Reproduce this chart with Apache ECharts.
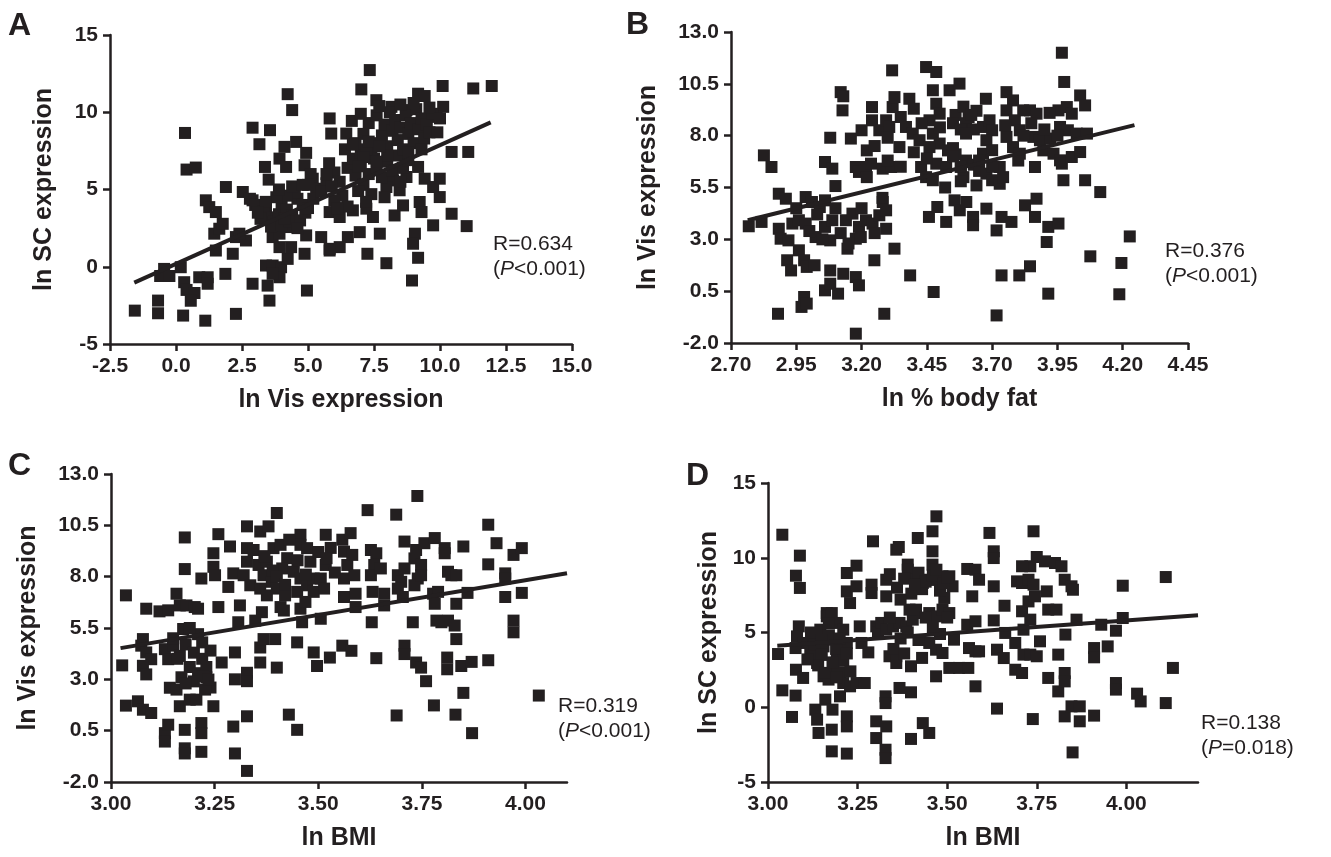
<!DOCTYPE html>
<html>
<head>
<meta charset="utf-8">
<script src="https://cdn.jsdelivr.net/npm/echarts@6/dist/echarts.min.js"></script>
<style>
html,body{margin:0;padding:0;background:#fff;}
#chart{width:1331px;height:857px;}
</style>
</head>
<body>
<div id="chart"></div>
<script>
// ---------- DATA ----------
const aXTicks = [-2.5, 0, 2.5, 5, 7.5, 10, 12.5, 15];
const aYTicks = [-5, 0, 5, 10, 15];
const bXTicks = [2.70, 2.95, 3.20, 3.45, 3.70, 3.95, 4.20, 4.45];
const bYTicks = [-2.0, 0.5, 3.0, 5.5, 8.0, 10.5, 13.0];
const cXTicks = [3.00, 3.25, 3.50, 3.75, 4.00];
const cYTicks = [-2.0, 0.5, 3.0, 5.5, 8.0, 10.5, 13.0];
const dXTicks = [3.00, 3.25, 3.50, 3.75, 4.00];
const dYTicks = [-5, 0, 5, 10, 15];

const panelLetters = ['A', 'B', 'C', 'D'];
const xTitles = ['ln Vis expression', 'ln % body fat', 'ln BMI', 'ln BMI'];
const yTitles = ['ln SC expression', 'ln Vis expression', 'ln Vis expression', 'ln SC expression'];
const rLabels = ['R=0.634', 'R=0.376', 'R=0.319', 'R=0.138'];
const pLabels = ['<0.001', '<0.001', '<0.001', '=0.018'];

const aFit = [[-1.58, -1.03], [11.92, 9.34]];
const bFit = [[2.764, 3.92], [4.245, 8.51]];
const cFit = [[3.023, 4.52], [4.10, 8.17]];
const dFit = [[3.026, 4.12], [4.20, 6.15]];

const aPts = [
[-1.56,-2.84],[-0.68,-2.19],[-0.68,-3.01],[0.27,-3.16],[1.11,-3.49],[2.27,-3.05],
[0.34,8.66],[0.40,6.29],[0.75,6.42],
[-0.45,-0.14],[-0.6,-0.6],[-0.25,-0.6],[0.18,-0.03],[0.31,-1.0],[0.4,-1.5],[0.7,-1.7],[0.56,-2.2],[0.88,-0.68],[1.2,-0.68],[1.2,-1.1],[1.87,-0.46],
[1.45,2.14],[1.64,2.46],[1.77,2.78],[1.51,1.05],[2.15,0.84],[2.27,1.92],[2.65,1.7],[2.4,2.14],
[1.13,4.3],[1.26,3.86],[1.51,3.54],[1.89,5.16],[2.53,4.84],[2.9,4.3],[3.16,3.86],[3.41,3.86],
[2.9,9.0],[3.16,7.93],[3.56,8.84],[3.37,6.46],[3.51,5.64],[4.23,11.17],[4.4,10.14],
[3.92,7.0],[4.17,6.46],[4.11,7.76],[4.55,8.08],[4.93,7.37],[4.87,6.57],[5.18,5.7],[5.31,5.05],
[4.93,2.03],[4.87,0.84],[4.96,-1.54],[5.5,1.92],[5.82,1.05],
[5.82,9.6],[5.88,8.62],[6.45,8.62],[6.66,9.44],[7.02,11.48],[7.34,12.73],[7.59,10.78],[8.16,10.35],[8.73,10.14],[9.17,11.2],[9.42,11.05],[10.1,11.7],[10.12,10.35],[9.87,9.7],[11.26,11.54],[11.96,11.7],
[10.44,7.43],[11.07,7.43],[9.17,6.46],[9.42,5.7],[9.99,5.7],[9.99,4.51],[9.74,5.16],[10.44,3.43],[11.01,2.63],[9.74,2.68],[9.23,4.19],[9.3,3.54],[9.05,2.14],[8.98,1.49],[9.17,0.58],[8.94,-0.89],
[7.97,0.23],[7.72,2.14],[7.25,0.84],[6.96,2.24],[6.51,1.92],[6.2,1.27],[5.82,1.16],
[5.82,3.54],[6.2,3.22],[6.7,3.65],[7.21,3.76],[7.46,3.22],[8.28,3.32],[8.6,3.97],
[8.22,5.59],[8.73,5.81],[7.97,5.16],[8.47,4.95],
[3.41,0.08],[3.66,0.08],[3.98,-0.03],[4.23,0.51],[4.36,1.27],[3.92,1.27],[3.66,1.92],[3.92,2.14],[4.17,2.57],
[2.9,-1.1],[3.47,-1.22],[3.54,-2.19],[3.92,-0.68],[3.66,-0.46],
[2.8,4.4],[3.0,4.0],[3.3,3.6],[3.5,3.2],[3.7,2.9],[3.9,3.4],[4.0,4.1],[4.2,3.7],[4.4,3.3],[4.6,4.4],[4.8,4.0],[4.5,4.8],[4.2,4.6],[3.8,4.5],[3.4,4.2],[3.2,3.1],[3.6,2.6],[4.0,2.7],[4.3,2.9],[4.7,3.0],[4.9,3.5],[3.9,5.0],[4.4,5.2],[4.8,5.3],[5.2,4.4],[5.0,3.8],[3.1,3.5],[4.1,3.1],[4.6,2.5],
[6.0,6.1],[6.2,5.5],[6.5,6.4],[6.8,5.9],[7.0,6.6],[7.1,5.3],[7.3,6.0],[7.5,7.0],[7.6,6.4],[7.8,5.8],[8.0,6.8],[8.2,6.2],[8.4,7.2],[6.7,7.0],[6.9,4.9],[7.4,4.7],[6.3,4.6],[5.7,5.4],[5.5,4.9],[6.0,4.3],[5.8,6.7],[6.4,7.6],[7.0,7.4],[8.6,6.4],[8.8,6.9],[8.5,5.5],[7.9,4.5],[7.2,4.2],[6.5,3.9],[6.1,3.8],
[7.1,8.6],[7.3,9.3],[7.5,8.0],[7.6,9.8],[7.8,8.5],[7.9,9.2],[8.0,7.8],[8.1,10.0],[8.2,8.8],[8.3,9.5],[8.4,8.2],[8.5,9.0],[8.6,7.6],[8.7,9.8],[8.8,8.6],[8.9,9.3],[9.0,8.0],[9.1,10.2],[9.2,8.9],[9.3,9.6],[9.4,8.3],[9.5,9.2],[9.6,8.7],[9.7,9.9],[7.4,7.3],[8.0,7.2],[8.8,7.4],[9.3,7.6],[7.0,9.9],[7.7,10.4],[8.5,10.5],[9.0,10.6],[9.6,10.3],[10.0,9.6],[9.9,8.7],[6.8,8.0],[7.2,7.6],
[6.7,7.9],[7.1,7.1],[6.9,6.5],[7.3,8.1],[7.6,6.8],[7.7,7.8],[5.1,6.0],[5.0,5.3],[5.7,6.0],[5.9,5.2]
];

const bPts = [
[2.768,3.63],[2.817,3.84],[2.826,7.05],[2.855,6.49],[2.88,-0.59],[2.883,5.2],[2.91,4.96],[2.883,3.51],[2.89,3.03],[2.92,2.95],[2.935,3.76],[2.96,3.92],[2.986,3.76],[2.915,1.99],[2.93,1.5],[2.96,2.47],[2.98,1.99],[2.99,1.67],[3.02,1.75],[2.97,-0.26],[2.98,0.22],[2.99,-0.1],[2.986,5.04],[3.01,4.8],[3.04,4.56],[3.06,4.88],[3.024,3.11],[3.06,3.6],[3.088,3.92],[3.08,2.95],[3.06,0.54],[3.08,0.86],[3.11,0.38],[3.13,1.34],[3.08,1.5],[3.06,6.73],[3.088,6.41],[3.1,5.57],[3.08,7.9],[3.12,10.1],[3.13,9.9],[3.127,9.22],[3.159,7.86],[3.146,2.55],[3.178,3.03],[3.178,1.18],[3.19,0.78],[3.178,-1.55],[3.178,6.49],[3.19,6.25],[3.217,6.49],[3.236,6.65],[3.14,3.92],[3.165,4.24],[3.19,3.6],[3.217,3.92],[3.242,3.76],[3.268,4.16],[3.294,4.4],[3.281,4.8],[3.294,3.51],[3.197,3.11],[3.2,8.26],[3.22,7.29],[3.24,9.38],[3.24,8.74],[3.249,1.99],[3.326,2.55],[3.287,-0.59],[3.281,6.41],[3.313,6.49],[3.268,8.26],[3.294,8.74],[3.306,8.42],[3.319,9.38],[3.317,11.15],[3.326,9.86],[3.345,7.45],[3.37,8.42],[3.396,8.1],[3.422,7.78],[3.383,9.78],[3.386,1.26],[3.428,6.49],[3.447,11.31],[3.486,11.07],[3.473,10.19],[3.486,9.54],[3.499,9.06],[3.46,8.74],[3.473,8.1],[3.499,7.62],[3.46,7.45],[3.447,6.0],[3.473,5.85],[3.486,6.65],[3.524,6.49],[3.531,7.29],[3.458,4.08],[3.49,4.56],[3.524,3.84],[3.476,0.46],[3.537,10.19],[3.575,10.51],[3.556,4.88],[3.576,4.4],[3.601,4.8],[3.627,4.08],[3.627,3.68],
[3.56,9.0],[3.59,9.4],[3.61,8.9],[3.64,9.2],[3.6,8.6],[3.63,8.3],[3.55,8.6],[3.58,8.3],
[3.56,7.1],[3.58,6.5],[3.59,6.0],[3.6,6.8],[3.63,6.6],[3.65,6.3],[3.55,7.4],
[3.676,9.78],[3.665,8.42],[3.69,8.74],[3.7,8.26],[3.678,7.78],[3.665,7.13],[3.678,6.17],[3.7,5.85],[3.729,5.68],[3.742,6.0],[3.729,6.49],[3.678,4.48],[3.717,3.43],[3.736,4.08],[3.774,3.84],[3.717,-0.67],[3.736,1.26],[3.804,1.26],[3.845,1.7],[3.755,10.1],[3.78,9.7],[3.755,9.22],[3.787,8.74],[3.806,8.26],[3.819,9.22],[3.755,7.94],[3.78,7.45],[3.806,7.13],[3.826,4.64],[3.87,4.96],[3.864,4.08],[3.845,9.22],[3.87,9.06],[3.858,7.94],[3.883,7.78],[3.864,6.49],[3.896,7.29],[3.909,2.87],[3.915,0.38],[3.915,3.6],[3.954,3.76],[3.935,7.13],[3.96,6.81],[3.967,6.65],[3.922,7.86],[3.967,12.0],[3.976,10.59],[3.954,9.22],[3.986,9.38],[4.005,9.06],[4.037,9.94],[4.056,9.46],[3.96,8.42],[3.99,8.26],[4.024,8.1],[4.063,8.1],[3.973,5.85],[4.056,5.85],[4.005,6.97],[4.037,7.21],[4.114,5.28],[4.076,2.18],[4.227,3.14],[4.195,1.86],[4.187,0.35],
[3.03,4.2],[3.1,4.5],[3.12,3.3],[3.2,4.5],[3.25,3.3],[3.0,3.4],[2.95,4.5],[3.05,3.0],[3.15,2.8],[3.28,5.0],
[3.3,7.9],[3.35,8.9],[3.4,9.3],[3.43,8.6],[3.5,8.4],[3.55,7.0],[3.6,8.1],[3.62,9.0],[3.58,6.5],[3.65,6.8],[3.7,7.3],[3.75,8.5],[3.8,6.8],[3.82,8.0],[3.85,8.6],[3.9,8.3],[3.92,9.1],[3.95,8.0],[3.64,5.6],[3.7,6.5],[3.58,5.8],[3.52,5.5],[3.45,6.9],[3.4,7.2],[3.25,7.5],[3.22,6.0],[3.35,6.5],[3.3,6.8]
];

const cPts = [
[3.036,7.09],[3.027,3.68],[3.036,1.72],[3.065,1.93],[3.077,1.52],[3.097,1.36],[3.077,4.96],[3.073,4.64],[3.085,4.31],[3.097,3.98],[3.077,3.66],[3.085,3.24],[3.085,6.44],[3.117,6.31],[3.138,6.36],[3.13,4.47],[3.138,3.98],[3.15,4.64],[3.166,4.14],[3.158,7.17],[3.178,9.91],[3.178,8.37],[3.142,2.59],[3.158,2.5],[3.13,0.38],[3.138,0.79],[3.13,-0.03],[3.166,1.69],[3.178,0.54],[3.178,-0.36],[3.178,-0.61],[3.166,6.6],[3.182,6.6],[3.202,6.52],[3.21,6.44],[3.174,5.45],
[3.15,5.0],[3.18,4.7],[3.2,4.3],[3.22,4.0],[3.19,3.6],[3.21,3.3],[3.23,3.6],[3.17,3.1],[3.2,2.9],[3.24,4.4],[3.16,4.0],[3.21,5.2],[3.22,4.8],[3.19,5.5],[3.23,3.1],[3.18,2.8],[3.24,2.6],
[3.19,2.01],[3.206,2.01],[3.218,0.87],[3.218,0.38],[3.218,-0.53],[3.222,3.16],[3.227,2.5],[3.235,2.99],[3.247,1.69],[3.218,7.91],[3.247,9.14],[3.247,8.48],[3.251,8.07],[3.259,6.52],[3.259,10.07],[3.267,3.82],[3.287,9.47],[3.283,7.5],[3.295,8.16],[3.299,4.31],[3.299,3.0],[3.295,0.7],[3.299,-0.61],[3.311,6.6],[3.307,5.78],[3.328,10.45],[3.328,9.39],[3.328,8.73],[3.344,9.3],[3.32,8.07],[3.336,7.58],[3.328,3.32],[3.328,2.91],[3.328,1.2],[3.328,-1.46],[3.36,10.2],[3.38,10.45],[3.4,11.1],[3.356,8.57],[3.368,8.07],[3.376,8.73],[3.388,7.75],[3.36,7.42],[3.376,7.09],[3.364,6.27],[3.348,5.86],[3.36,4.55],[3.368,4.96],[3.36,3.82],[3.396,4.96],[3.4,3.57],[3.392,9.39],[3.409,9.55],[3.425,8.9],[3.413,8.4],[3.4,7.42],[3.42,7.09],[3.409,6.52],[3.417,6.35],[3.449,4.8],[3.429,1.28],[3.449,0.54],
[3.441,8.24],[3.457,10.04],[3.457,9.55],[3.473,9.39],[3.481,8.73],[3.457,7.91],[3.473,7.58],[3.449,7.26],[3.489,7.91],[3.489,7.26],
[3.457,6.44],[3.469,6.77],[3.461,5.78],[3.489,4.31],[3.497,3.65],[3.506,5.95],[3.518,10.04],[3.506,7.91],[3.514,7.42],[3.518,8.57],[3.528,4.06],[3.558,9.8],[3.578,10.12],[3.562,9.22],[3.57,8.57],[3.582,9.06],[3.562,7.91],[3.587,8.07],[3.562,7.01],[3.558,4.64],[3.58,4.39],[3.59,7.17],[3.59,6.52],[3.619,11.24],[3.627,9.3],[3.64,9.14],[3.635,8.57],[3.627,8.07],[3.651,8.4],[3.631,7.26],[3.629,5.78],[3.64,4.03],[3.659,7.17],[3.659,6.6],[3.688,11.02],[3.692,8.07],[3.7,7.75],[3.708,8.4],[3.692,7.42],[3.704,7.01],[3.708,9.71],[3.689,1.24],[3.708,4.64],[3.708,4.23],[3.728,5.78],[3.739,11.93],[3.732,8.89],[3.736,9.3],[3.748,8.57],[3.74,7.91],[3.732,7.58],[3.748,8.07],[3.756,9.63],[3.736,3.82],[3.748,3.57],[3.76,2.91],[3.779,1.73],[3.781,9.88],[3.777,7.17],[3.781,6.68],[3.789,7.26],[3.797,5.78],[3.785,5.86],[3.805,9.39],[3.805,9.14],[3.813,5.86],[3.829,5.62],[3.833,4.96],[3.833,6.68],[3.813,8.24],[3.821,8.07],[3.833,8.07],[3.811,4.06],[3.811,3.49],[3.85,9.47],[3.86,7.21],[3.845,3.65],[3.87,3.85],[3.85,2.34],[3.831,1.28],[3.871,0.38],[3.91,10.53],[3.93,9.63],[3.91,8.6],[3.91,3.93],[3.951,8.16],[3.951,7.91],[3.951,7.01],[3.971,9.06],[3.991,9.39],[3.991,7.21],[3.971,5.86],[3.971,5.29],[4.032,2.21],
[3.37,9.0],[3.39,8.3],[3.43,9.8],[3.45,8.8],[3.47,8.1],[3.5,9.2],[3.53,9.4],[3.52,8.9],[3.54,8.2],[3.4,8.0],[3.42,7.6]
];

const dPts = [
[3.04,11.54],[3.028,3.56],[3.04,1.13],[3.067,-0.65],[3.078,2.51],[3.098,1.96],[3.077,0.78],[3.089,10.14],[3.078,8.8],[3.089,7.98],[3.086,5.41],[3.081,4.74],[3.1,4.3],[3.077,3.96],[3.118,3.63],[3.127,4.74],[3.146,5.19],[3.164,6.3],[3.155,4.07],[3.137,2.96],[3.132,-0.16],[3.137,-0.83],[3.141,-1.72],[3.16,0.51],[3.178,-1.5],[3.178,-2.95],[3.18,-0.16],[3.155,2.07],[3.169,1.85],[3.183,2.51],[3.201,2.29],[3.192,3.41],[3.178,4.52],[3.192,5.64],[3.21,5.19],[3.22,4.3],[3.164,6.08],[3.178,6.3],[3.22,8.98],[3.22,7.75],[3.229,6.97],[3.247,9.47],[3.201,0.73],[3.22,-0.61],[3.22,-1.28],[3.22,-3.1],[3.21,1.62],[3.229,1.4],[3.247,1.62],[3.27,1.62],[3.247,8.09],[3.256,5.41],[3.261,4.3],[3.28,3.67],[3.289,8.2],[3.289,7.64],[3.293,11.1],[3.302,5.41],[3.307,4.97],[3.316,5.64],[3.302,-0.94],[3.302,-2.06],[3.328,0.73],[3.328,0.28],[3.33,-1.28],[3.328,-2.84],[3.328,-3.4],[3.33,8.53],[3.33,7.42],[3.339,3.41],[3.358,3.41],[3.358,2.96],[3.33,5.19],[3.349,5.41],[3.367,5.64],[3.386,5.41],[3.404,5.86],[3.413,6.3],[3.358,10.54],[3.365,10.72],[3.39,9.54],[3.39,9.2],[3.367,1.29],[3.399,1.0],[3.399,2.74],[3.399,-2.12],[3.395,6.53],[3.413,6.53],[3.418,11.32],
[3.413,8.53],[3.432,8.31],[3.45,8.53],[3.469,8.53],[3.487,8.76],[3.506,8.76],[3.515,8.09],
[3.432,-1.06],[3.45,-1.72],[3.459,11.77],[3.459,10.43],[3.459,9.54],[3.47,12.77],[3.45,6.3],[3.469,6.08],[3.487,6.53],[3.506,6.3],[3.45,4.3],[3.469,3.85],[3.487,3.63],[3.469,2.07],[3.492,7.31],[3.506,2.63],[3.533,2.63],[3.559,2.63],[3.519,4.52],[3.556,9.25],[3.579,9.2],[3.589,8.53],[3.57,7.42],[3.556,5.52],[3.579,5.75],[3.561,3.96],[3.579,3.74],[3.589,3.74],[3.579,1.4],[3.618,11.66],[3.63,10.43],[3.63,9.98],[3.63,8.09],[3.63,5.81],[3.639,3.85],[3.658,3.29],[3.639,-0.09],[3.66,6.79],[3.662,4.97],[3.69,4.3],[3.69,2.51],[3.709,2.29],[3.695,8.42],[3.709,8.31],[3.727,8.53],[3.741,8.2],[3.732,9.43],[3.709,9.43],[3.741,11.77],[3.709,6.42],[3.727,7.08],[3.745,7.42],[3.713,5.19],[3.732,5.86],[3.713,3.52],[3.732,3.52],[3.75,3.41],[3.739,-0.79],[3.75,10.05],[3.773,9.76],[3.801,9.65],[3.819,9.43],[3.759,4.41],[3.778,7.75],[3.782,6.53],[3.805,6.53],[3.782,1.96],[3.81,3.52],[3.81,1.06],[3.828,8.53],[3.847,8.09],[3.851,7.86],[3.83,4.86],[3.828,2.29],[3.828,1.73],[3.828,-0.61],[3.847,0.06],[3.87,0.06],[3.87,-0.94],[3.85,-3.02],[3.861,5.86],[3.91,3.96],[3.91,3.34],[3.91,-0.56],[3.93,5.52],[3.948,4.07],[3.971,5.12],[3.971,1.62],[3.971,1.18],[3.99,5.97],[3.99,8.13],[4.03,0.91],[4.04,0.39],[4.11,8.71],[4.11,0.28],[4.13,2.63],
[3.13,4.2],[3.15,3.5],[3.17,4.8],[3.19,3.9],[3.21,3.1],[3.14,2.8],[3.16,2.3],[3.18,3.0],[3.2,4.6],[3.23,2.4],[3.12,5.0],[3.17,5.6],[3.15,4.5],[3.19,2.0],[3.22,3.6],[3.11,3.2],
[3.34,8.9],[3.36,8.0],[3.38,8.6],[3.4,7.6],[3.42,9.0],[3.43,7.9],[3.44,8.4],[3.46,8.8],[3.48,7.8],[3.49,8.3],[3.37,7.2],[3.41,8.2],[3.47,9.2],[3.5,8.7],
[3.34,6.0],[3.37,4.6],[3.39,5.0],[3.42,4.5],[3.44,6.0],[3.46,5.3],[3.48,4.9],[3.5,6.0],[3.35,3.9],[3.38,3.6],[3.43,3.3]
];

// ---------- LAYOUT / STYLE ----------
const INK = '#231f20';
const FONT = '"Liberation Sans", Arial, sans-serif';

const panels = [
  { grid:{left:110, top:35, width:462, height:309}, xr:[-2.5,15], yr:[-5,15], xt:aXTicks, yt:aYTicks, xd:1, yd:0, pts:aPts, fit:aFit, xGap:44, yGap:53 },
  { grid:{left:731, top:32, width:457, height:311}, xr:[2.70,4.45], yr:[-2,13], xt:bXTicks, yt:bYTicks, xd:2, yd:1, pts:bPts, fit:bFit, xGap:44, yGap:70 },
  { grid:{left:111, top:474, width:456, height:308}, xr:[3.0,4.10], yr:[-2,13], xt:cXTicks, yt:cYTicks, xd:2, yd:1, pts:cPts, fit:cFit, xGap:44, yGap:70 },
  { grid:{left:768, top:483, width:430, height:299}, xr:[3.0,4.20], yr:[-5,15], xt:dXTicks, yt:dYTicks, xd:2, yd:0, pts:dPts, fit:dFit, xGap:44, yGap:46 }
];

function axis(i, range, ticks, digits, name, gap) {
  return {
    type:'value', gridIndex:i, min:range[0], max:range[1],
    name:name, nameLocation:'middle', nameGap:gap,
    nameTextStyle:{fontFamily:FONT, fontWeight:'bold', fontSize:25, color:INK},
    axisLine:{show:true, onZero:false, lineStyle:{color:INK, width:2.5}},
    axisTick:{show:true, inside:false, length:7, customValues:ticks, lineStyle:{color:INK, width:2.5}},
    axisLabel:{show:true, customValues:ticks, showMinLabel:true, showMaxLabel:true, margin:12,
      formatter:function(v){ return Number(v).toFixed(digits); },
      fontFamily:FONT, fontWeight:'bold', fontSize:21, color:INK},
    splitLine:{show:false}
  };
}

const grids = [], xAxes = [], yAxes = [], series = [], graphics = [];
panels.forEach(function(p, i){
  grids.push(Object.assign({containLabel:false}, p.grid));
  xAxes.push(axis(i, p.xr, p.xt, p.xd, xTitles[i], p.xGap));
  yAxes.push(axis(i, p.yr, p.yt, p.yd, yTitles[i], p.yGap));
  series.push({type:'scatter', xAxisIndex:i, yAxisIndex:i, data:p.pts, symbol:'rect', symbolSize:12,
    itemStyle:{color:INK, opacity:1}, silent:true, z:2});
  series.push({type:'line', xAxisIndex:i, yAxisIndex:i, data:p.fit, symbol:'none',
    lineStyle:{color:INK, width:4}, silent:true, z:3});
});

const letterPos = [[8,10],[626,9],[8,450],[686,460]];
letterPos.forEach(function(pos, i){
  graphics.push({type:'text', left:pos[0], top:pos[1],
    style:{text:panelLetters[i], font:'bold 32px ' + FONT, fill:INK}});
});

const rPos = [[493,232],[1165,239],[558,694],[1201,711]];
rPos.forEach(function(pos, i){
  graphics.push({type:'text', left:pos[0], top:pos[1],
    style:{text: rLabels[i] + '\n({i|P}' + pLabels[i] + ')',
      font:'21px ' + FONT, fill:INK, lineHeight:25,
      rich:{i:{fontStyle:'italic', fontSize:21, fontFamily:FONT, fill:INK, lineHeight:25}}}});
});

const chart = echarts.init(document.getElementById('chart'), null, {renderer:'canvas'});
chart.setOption({
  animation:false,
  backgroundColor:'#ffffff',
  grid:grids, xAxis:xAxes, yAxis:yAxes, series:series, graphic:graphics
});
</script>
</body>
</html>
